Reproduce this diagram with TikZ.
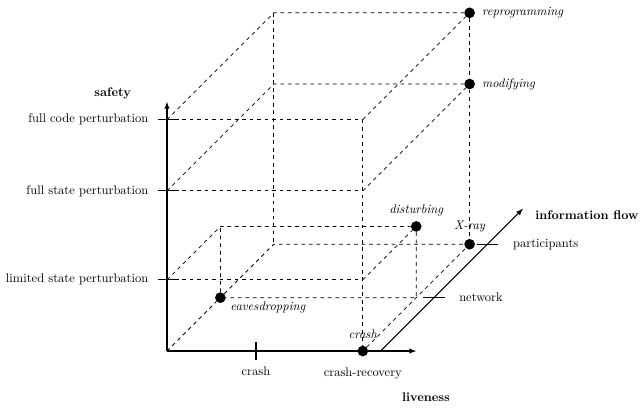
\documentclass[tikz,border=0pt]{standalone}
\usepackage{amsmath}
\usepackage{tikz}
\usetikzlibrary{arrows}
\tikzstyle{axis} = [line width=0.9pt,->,>=latex]
\tikzstyle{guide} = [dashed, semithick]
\tikzstyle{tickmark} = [line width=0.9pt]
\tikzstyle{point} = [circle, fill=black, inner sep=0pt, minimum size=3mm]
\tikzstyle{pointlabel} = [font=\itshape, label distance=2pt]
\tikzstyle{axisname} = [font=\bfseries]
\tikzstyle{level} = [anchor=east]

\begin{document}
\begin{tikzpicture}[x=0.5cm, y=0.5cm]
	\useasboundingbox (-9.38,-3.2) rectangle (26.74,19.72);
	\coordinate (o) at (0,0);
	\coordinate (ytop) at (0,14);
	\coordinate (xtop) at (14,0);
	\coordinate (zstart) at (12,0);
	\coordinate (ztop) at (20,8);
	\coordinate (lim) at (0,4);
	\coordinate (fst) at (0,9);
	\coordinate (fcode) at (0,13);
	\coordinate (lim-r) at (11,4);
	\coordinate (fst-r) at (11,9);
	\coordinate (fcode-r) at (11,13);
	\coordinate (net-l) at (3,7);
	\coordinate (net-r) at (14,3);
	\coordinate (part-l) at (6,6);
	\coordinate (part-st) at (6,15);
	\coordinate (part-code) at (6,19);
	\coordinate (crash-t) at (5,0);
	\coordinate (net) at (15,3);
	\coordinate (part) at (18,6);
	
	\node (crash) [point, label={[pointlabel]above:crash}] at (11,0) {};
	\node (eaves) [point, label={[pointlabel, label distance=0pt, anchor=north west]right:eavesdropping}] at (3,3) {};
	\node (disturb) [point, label={[pointlabel, label distance=0pt]above:disturbing}] at (14,7) {};
	\node (xray) [point, label={[pointlabel]above:X-ray}] at (17,6) {};
	\node (modify) [point, label={[pointlabel]right:modifying}] at (17,15) {};
	\node (reprog) [point, label={[pointlabel]right:reprogramming}] at (17,19) {};
	
	\node (safety) [axisname] at (-3.05,14.45) {safety};
	\node (liveness) [axisname] at (14.55,-2.58) {liveness};
	\node (infoflow) [axisname, anchor=east] at (26.74,7.64) {information flow};
	\node (lim-lbl) [level] at (-0.8,4) {limited state perturbation};
	\node (fst-lbl) [level] at (-0.8,9) {full state perturbation};
	\node (fcode-lbl) [level] at (-0.8,13) {full code perturbation};
	\node (crash-lbl) at (5,-1.16) {crash};
	\node (recov-lbl) at (11,-1.23) {crash-recovery};
	\node (net-lbl) [anchor=west] at (16.17,3) {network};
	\node (part-lbl) [anchor=west] at (19.2,6) {participants};
	
	\draw [guide] (fcode) -- (fcode-r);
	\draw [guide] (fst) -- (fst-r);
	\draw [guide] (lim) -- (lim-r);
	\draw [guide] (fcode-r) -- (crash);
	\draw [guide] (fcode) -- (part-code) -- (reprog);
	\draw [guide] (fst) -- (part-st) -- (modify);
	\draw [guide] (o) -- (eaves) -- (part-l) -- (xray);
	\draw [guide] (part-code) -- (part-l);
	\draw [guide] (reprog) -- (modify) -- (xray);
	\draw [guide] (fcode-r) -- (reprog);
	\draw [guide] (fst-r) -- (modify);
	\draw [guide] (crash) -- (xray);
	\draw [guide] (lim) -- (net-l) -- (disturb) -- (net-r) -- (eaves) -- (net-l);
	\draw [guide] (lim-r) -- (disturb);
	
	\draw [axis] (o) -- (ytop);
	\draw [axis] (o) -- (xtop);
	\draw [axis] (zstart) -- (ztop);
	\draw [tickmark] ([xshift=-2.5mm]lim) -- ([xshift=3.5mm]lim);
	\draw [tickmark] ([xshift=-2.5mm]fst) -- ([xshift=3.5mm]fst);
	\draw [tickmark] ([xshift=-2.5mm]fcode) -- ([xshift=3.5mm]fcode);
	\draw [tickmark] ([yshift=-2.5mm]crash-t) -- ([yshift=2.5mm]crash-t);
	\draw [tickmark] ([yshift=-3mm]crash) -- ([yshift=2.5mm]crash);
	\draw [tickmark] ([xshift=-3mm]net) -- ([xshift=3mm]net);
	\draw [tickmark] ([xshift=-3mm]part) -- ([xshift=3mm]part);
\end{tikzpicture}
\end{document}
